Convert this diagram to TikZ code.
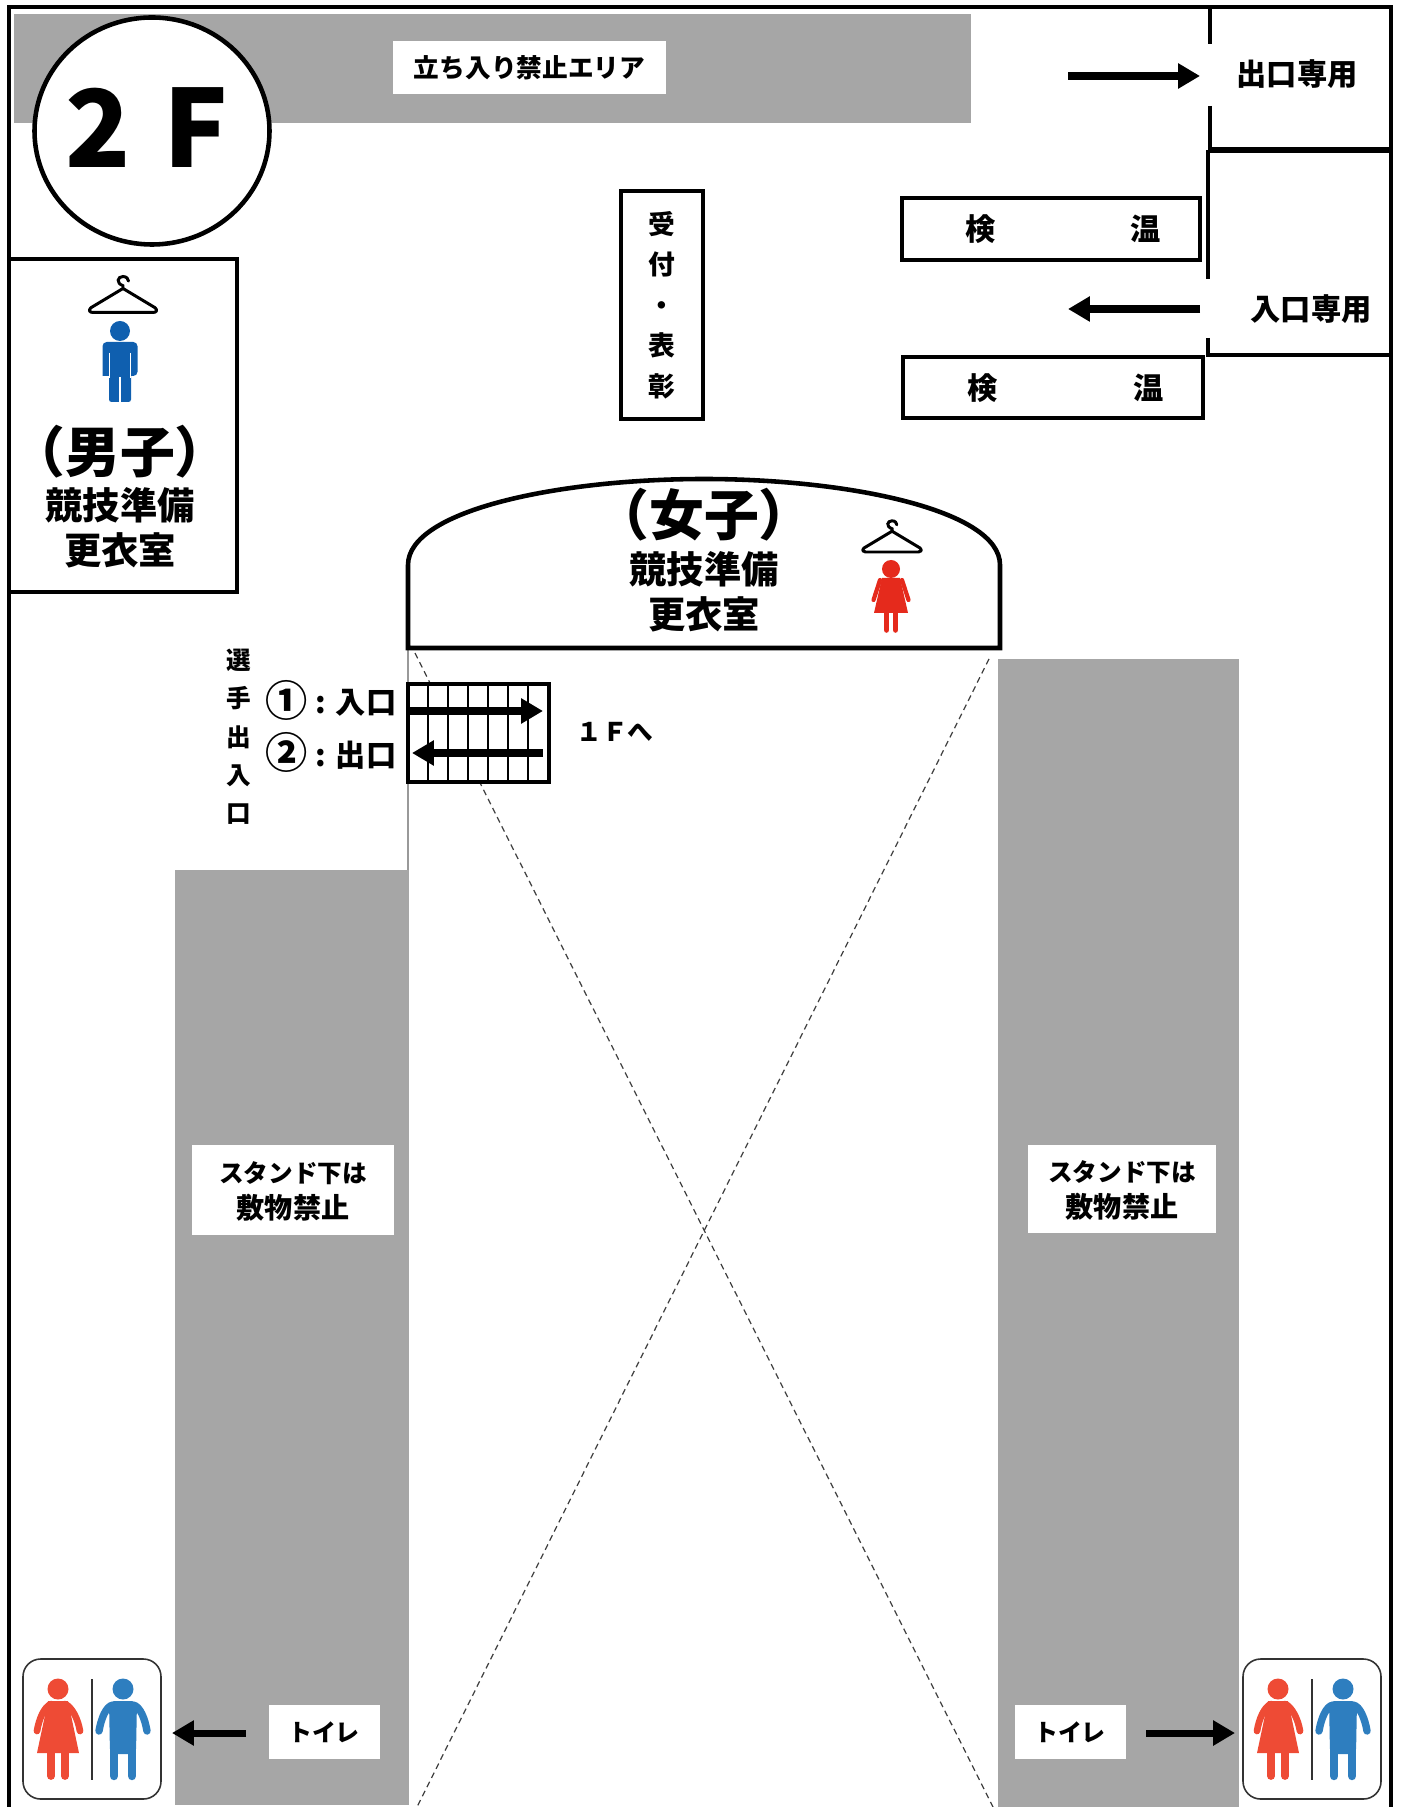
\documentclass[tikz,border=0pt]{standalone}
\usepackage{fontspec}
\setmainfont{Noto Sans CJK JP}
\usepackage{tikz}
\usetikzlibrary{arrows.meta}
\definecolor{standgray}{HTML}{A6A6A6}
\definecolor{boyblue}{HTML}{0F5FAF}
\definecolor{girlred}{HTML}{E52A1C}
\definecolor{wcred}{HTML}{EE4B35}
\definecolor{wcblue}{HTML}{2E7EBF}
\tikzset{
  wall/.style={line width=1.3pt},
  thickwall/.style={line width=1.9pt},
  stand/.style={fill=standgray,draw=none},
  xline/.style={line width=0.35pt,black!75,dash pattern=on 1.7pt off 1.2pt},
  way/.style={line width=2pt,-{Triangle[length=6.2pt,width=6.8pt]}},
  small/.style={font=\bfseries\fontsize{7.3}{9.8}\selectfont,align=center},
  label/.style={font=\bfseries\fontsize{8.6}{10}\selectfont,align=center},
  mid/.style={font=\bfseries\fontsize{10.6}{12}\selectfont,align=center},
  big/.style={font=\bfseries\fontsize{15.6}{16}\selectfont,align=center},
  plate/.style={fill=white,inner sep=0pt},
  hanger/.pic={
    \draw[line width=0.85pt,line join=round] (0,-6) -- (-35,15) .. controls (-38,18) and (-36,20) .. (-33,20) -- (33,20) .. controls (36,20) and (38,18) .. (35,15) -- cycle;
    \draw[line width=0.85pt,line cap=round] (0,-6) -- (0,-9) .. controls (-8,-12) and (-6,-19) .. (0,-19) .. controls (4,-19) and (6,-16) .. (6,-14);
  },
  boyfig/.pic={
    \fill[boyblue] (0,0) circle(10);
    \fill[boyblue,rounded corners=1.2pt] (-17.5,45) -- (-17.5,11) -- (17.5,11) -- (17.5,45) -- (-17.5,45);
    \fill[boyblue,rounded corners=0.7pt] (-11,40) -- (-11,71) -- (11,71) -- (11,40) -- cycle;
    \draw[white,line width=0.3pt] (-10.5,22) -- (-10.5,47) (10.5,22) -- (10.5,47) (0,46) -- (0,72);
  },
  girlfig/.pic={
    \fill[girlred] (0,0) circle(9);
    \fill[girlred] (-9,9) -- (9,9) -- (17,44) -- (-17,44) -- cycle;
    \draw[girlred,line width=1.2pt,line cap=round] (-11,11) -- (-17.5,31) (11,11) -- (17.5,31);
    \draw[girlred,line width=1.6pt,line cap=round] (-4.5,44) -- (-4.5,61) (4.5,44) -- (4.5,61);
  },
  wcsign/.pic={
    \draw[line width=0.45pt,black!80,rounded corners=5pt] (0,0) rectangle (138,140);
    \draw[line width=0.45pt,black!80] (69,20) -- (69,121);
    % woman
    \fill[wcred] (35,30) circle(10.5);
    \fill[wcred] (25,42) -- (45,42) -- (56,94) -- (14,94) -- cycle;
    \draw[wcred,line width=1.9pt,line cap=round] (28,45) .. controls (21,48) and (16,60) .. (14,72) (42,45) .. controls (49,48) and (55,60) .. (57,72);
    \draw[wcred,line width=2.2pt,line cap=round] (28,90) -- (28,117) (42,90) -- (42,117);
    % man
    \fill[wcblue] (100,30) circle(10.5);
    \fill[wcblue,rounded corners=1.5pt] (86,42) -- (114,42) -- (113,95) -- (87,95) -- cycle;
    \draw[wcblue,line width=2.1pt,line cap=round] (90,46) .. controls (83,47) and (78,60) .. (76,72) (110,46) .. controls (117,47) and (122,60) .. (124,72);
    \draw[wcblue,line width=2.4pt,line cap=round] (91,90) -- (91,117) (109,90) -- (109,117);
  },
}
\begin{document}
\begin{tikzpicture}[x=0.01cm,y=-0.01cm]
  \useasboundingbox (0,0) rectangle (1400,1807);
  % gray areas
  \fill[stand] (14,14) rectangle (971,123);
  \fill[stand] (175,870) rectangle (409,1805);
  \fill[stand] (998,659) rectangle (1239,1807);
  \draw[line width=0.3pt,black!40] (408,648) -- (408,870);
  % crossing on the floor
  \draw[xline] (415,653) -- (993,1807);
  \draw[xline] (989,659) -- (417,1807);
  % outer walls
  \draw[wall] (9,1807) -- (9,7) -- (1391,7) -- (1391,1807);
  % doors
  \draw[wall] (1210,7) -- (1210,44);
  \draw[wall] (1210,106) -- (1210,150);
  \draw[thickwall] (1208,150) -- (1391,150);
  \draw[wall] (1208,150) -- (1208,279);
  \draw[wall] (1208,338) -- (1208,355) -- (1391,355);
  \coordinate (exitstart) at (1068,76);
  \coordinate (exitend) at (1200,76);
  \coordinate (entrystart) at (1200,309);
  \coordinate (entryend) at (1068,309);
  \draw[way] (exitstart) -- (exitend);
  \draw[way] (entrystart) -- (entryend);
  \node[label] (exitlabel) at (1297,74) {出口専用};
  \node[label] (entrylabel) at (1311,309) {入口専用};
  % floor sign
  \draw[wall,fill=white] (152,131) ellipse (117.5 and 113.5);
  \node[font=\bfseries\fontsize{30.5}{31}\selectfont] (floorname) at (147,127.5) {2\hspace{2.4pt} F};
  \node[plate,minimum width=273*0.01cm,minimum height=53*0.01cm,small] (keepout) at (529.5,67.5) {立ち入り禁止エリア};
  % boys room
  \draw[wall] (9,259) rectangle (237,592);
  \pic[scale=0.92] at (123,294) {hanger};
  \pic at (120,331) {boyfig};
  \node[big] (boyname) at (120,452) {（男子）};
  \node[mid] (boyroomA) at (120,505) {競技準備};
  \node[mid] (boyroomB) at (120,550) {更衣室};
  % reception
  \draw[wall] (621,191) rectangle (703,419);
  \node[font=\bfseries\fontsize{7.6}{11.5}\selectfont,align=center] (desk) at (661.5,305) {受\\付\\・\\表\\彰};
  % temperature check
  \draw[wall] (902,198) rectangle (1200,260);
  \draw[wall] (903,357) rectangle (1203,418);
  \node[label] (checkA) at (981,229) {検};
  \node[label] (checkB) at (1146,229) {温};
  \node[label] (checkC) at (983,388) {検};
  \node[label] (checkD) at (1149,388) {温};
  % girls room
  \draw[wall,fill=white] (408,648) -- (408,565) .. controls (408,510) and (560,479) .. (704,479) .. controls (848,479) and (1000,510) .. (1000,565) -- (1000,648) -- cycle;
  \node[big] (girlname) at (704,515) {（女子）};
  \node[mid] (girlroomA) at (704,569) {競技準備};
  \node[mid] (girlroomB) at (704,614) {更衣室};
  \pic[scale=0.8] at (892,536) {hanger};
  \pic at (891,569) {girlfig};
  % stairs
  \draw[line width=1.35pt,fill=white] (408,684) rectangle (549,782);
  \foreach \k in {1,...,6} {
    \draw[line width=0.65pt] (408+20*\k,684) -- (408+20*\k,782);
  }
  \coordinate (upstart) at (408,711);
  \coordinate (upend) at (543,711);
  \coordinate (downstart) at (543,753);
  \coordinate (downend) at (412,753);
  \draw[way] (upstart) -- (upend);
  \draw[way] (downstart) -- (downend);
  \node[font=\bfseries\fontsize{7}{10.9}\selectfont,align=center] (gatename) at (238.5,737) {選\\手\\出\\入\\口};
  \node[font=\bfseries\fontsize{12}{12}\selectfont] (numA) at (287,700) {①};
  \node[font=\bfseries\fontsize{12}{12}\selectfont] (numB) at (287,752) {②};
  \node[label,anchor=east,inner sep=0pt] (gateA) at (397,703) {: 入口};
  \node[label,anchor=east,inner sep=0pt] (gateB) at (397,755) {: 出口};
  \node[small] (downstairs) at (615,732) {１Ｆへ};
  % notes on the stands
  \node[plate,minimum width=202*0.01cm,minimum height=90*0.01cm] (noteA) at (293,1190) {};
  \node[plate,minimum width=188*0.01cm,minimum height=88*0.01cm] (noteB) at (1122,1189) {};
  \node[font=\bfseries\fontsize{7}{9}\selectfont] (noteAa) at (293,1173) {スタンド下は};
  \node[font=\bfseries\fontsize{8}{9}\selectfont] (noteAb) at (293,1208) {敷物禁止};
  \node[font=\bfseries\fontsize{7}{9}\selectfont] (noteBa) at (1122,1172) {スタンド下は};
  \node[font=\bfseries\fontsize{8}{9}\selectfont] (noteBb) at (1122,1207) {敷物禁止};
  % toilets
  \pic at (23,1659) {wcsign};
  \pic at (1243,1659) {wcsign};
  \node[plate,minimum width=111*0.01cm,minimum height=54*0.01cm,font=\bfseries\fontsize{6.8}{9}\selectfont] (wcA) at (324,1732) {トイレ};
  \node[plate,minimum width=111*0.01cm,minimum height=54*0.01cm,font=\bfseries\fontsize{6.8}{9}\selectfont] (wcB) at (1070,1732) {トイレ};
  \coordinate (wcAstart) at (246,1733);
  \coordinate (wcAend) at (172,1733);
  \coordinate (wcBstart) at (1146,1733);
  \coordinate (wcBend) at (1235,1733);
  \draw[way] (wcAstart) -- (wcAend);
  \draw[way] (wcBstart) -- (wcBend);
\end{tikzpicture}
\end{document}
